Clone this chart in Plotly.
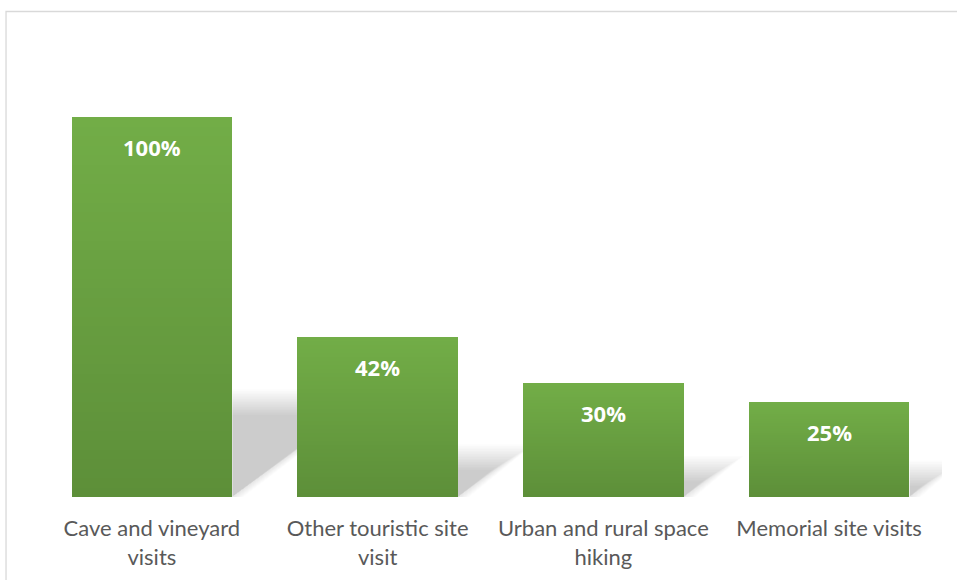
import plotly.graph_objects as go

categories = ["Cave and vineyard<br>visits", "Other touristic site<br>visit",
              "Urban and rural space<br>hiking", "Memorial site visits"]
values = [100, 42, 30, 25]
labels = ["100%", "42%", "30%", "25%"]

# layout geometry (px)
W, H = 957, 580
ML, MR, MT, MB = 38.5, 14.5, 41, 83
YMAX = 120
BARW = 0.712
px_x = (W - ML - MR) / 4.0
px_y = (H - MT - MB) / YMAX

xs = list(range(len(values)))
fig = go.Figure()

# blurred perspective shadows (clipped at the next bar, which hides them)
SH_DY = 0.25
SH_SLOPE = 1.38
offsets = list(range(-16, 17, 2))
for e in offsets:
    sx, sy = [], []
    for i, v in enumerate(values):
        R = i + BARW / 2
        clip = (i + 1 - BARW / 2) if i + 1 < len(values) else 3.5 + 20 / px_x
        dy_px = SH_DY * v * px_y
        dx_px = SH_SLOPE * dy_px
        top = max(dy_px + e * 0.8, 0) / px_y
        right = R + max(dx_px + e * 1.3, 0) / px_x
        bot_x = R + (e * 0.7) / px_x
        bot_x = max(bot_x, R)
        if right <= clip:
            px_ = [R, R, right, bot_x, R]
            py_ = [0, top, top, 0, 0]
        else:
            yc = top * (clip - bot_x) / (right - bot_x) if right > bot_x else top
            px_ = [R, R, clip, clip, bot_x, R]
            py_ = [0, top, top, yc, 0, 0]
        sx += px_ + [None]
        sy += py_ + [None]
    fig.add_trace(go.Scatter(x=sx, y=sy, mode="lines", fill="toself",
                             fillcolor="rgba(0,0,0,0.0135)", line=dict(width=0),
                             hoverinfo="skip", showlegend=False))

# gradient bars (overlay of decreasing heights)
N = 40
top_c = (114, 173, 71)
bot_c = (93, 143, 57)
for k in range(N):
    t = k / (N - 1)
    c = tuple(round(top_c[j] + (bot_c[j] - top_c[j]) * t) for j in range(3))
    frac = 1 - k / N
    fig.add_trace(go.Bar(x=xs, y=[v * frac for v in values], width=BARW,
                         marker=dict(color="rgb(%d,%d,%d)" % c, line=dict(width=0)),
                         hoverinfo="skip", showlegend=False))

for i, v in enumerate(values):
    fig.add_annotation(x=i, y=v, text="<b>%s</b>" % labels[i], showarrow=False,
                       yshift=-30, font=dict(family="Open Sans", size=22, color="white"))

# chart frame
fig.add_shape(type="rect", xref="paper", yref="paper",
              x0=(5.5 - ML) / (W - ML - MR), x1=1.05,
              y0=-0.25, y1=(H - MB - 11.5) / (H - MT - MB),
              line=dict(color="#D9D9D9", width=1.3), layer="below")

fig.update_layout(
    width=W, height=H, barmode="overlay", bargap=0,
    margin=dict(l=ML, r=MR, t=MT, b=MB, autoexpand=False),
    plot_bgcolor="white", paper_bgcolor="white",
    xaxis=dict(range=[-0.5, 3.5], tickvals=xs, ticktext=categories,
               showgrid=False, zeroline=False, showline=False, automargin=False,
               ticks="outside", ticklen=12, tickcolor="rgba(0,0,0,0)",
               tickfont=dict(family="Lato", size=22, color="#595959")),
    yaxis=dict(range=[0, YMAX], visible=False, automargin=False),
)

fig.write_html("out.html")
